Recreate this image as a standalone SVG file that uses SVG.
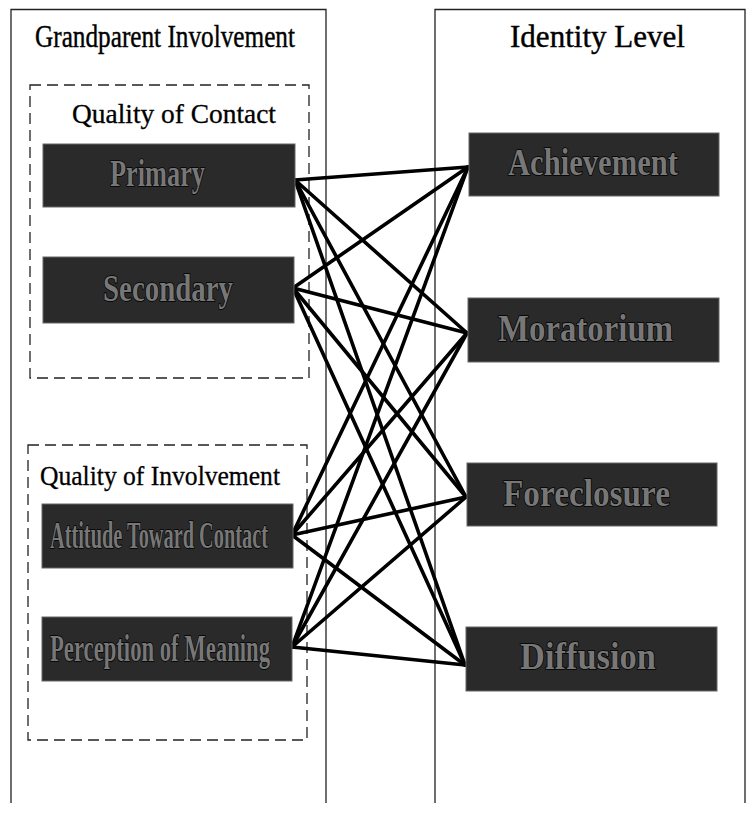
<svg xmlns="http://www.w3.org/2000/svg" width="746" height="813" viewBox="0 0 746 813">
<style>
.panel{fill:none;stroke:#222;stroke-width:1.3}
.dash{fill:none;stroke:#222;stroke-width:1.3;stroke-dasharray:11 6}
.title{font-family:"Liberation Serif",serif;font-size:31px;fill:#000;stroke:#000;stroke-width:0.4}
.sub{font-family:"Liberation Serif",serif;font-size:27px;fill:#000;stroke:#000;stroke-width:0.3}
.box{fill:#2a2a2a;stroke:#666;stroke-width:1}
.lbl{font-family:"Liberation Serif",serif;font-size:38px;font-weight:bold;fill:#777;stroke:#000;stroke-width:1.6;paint-order:stroke}
.conn line{stroke:#000;stroke-width:3.6;stroke-linecap:round}
</style>
<rect width="746" height="813" fill="#fff"/>
<g id="panel-left">
<path class="panel" d="M11,803 V9.5 H326 V803"/>
<text class="title" x="35" y="47" textLength="260" lengthAdjust="spacingAndGlyphs">Grandparent Involvement</text>
</g>
<g id="panel-right">
<path class="panel" d="M435,803 V9.5 H745 V803"/>
<text class="title" x="510" y="47" textLength="175" lengthAdjust="spacingAndGlyphs">Identity Level</text>
</g>
<g id="group-contact">
<rect class="dash" x="30" y="85" width="279" height="293"/>
<text class="sub" x="72" y="123" textLength="204" lengthAdjust="spacingAndGlyphs">Quality of Contact</text>
</g>
<g id="group-involvement">
<rect class="dash" x="28" y="445" width="279" height="295"/>
<text class="sub" x="40" y="485" textLength="240" lengthAdjust="spacingAndGlyphs">Quality of Involvement</text>
</g>
<g class="conn" id="connectors">
<line x1="295" y1="180" x2="468" y2="167"/>
<line x1="295" y1="180" x2="467" y2="333"/>
<line x1="295" y1="180" x2="466" y2="497"/>
<line x1="295" y1="180" x2="465" y2="665"/>
<line x1="293" y1="288" x2="468" y2="167"/>
<line x1="293" y1="288" x2="467" y2="333"/>
<line x1="293" y1="288" x2="466" y2="497"/>
<line x1="293" y1="288" x2="465" y2="665"/>
<line x1="292" y1="535" x2="468" y2="167"/>
<line x1="292" y1="535" x2="467" y2="333"/>
<line x1="292" y1="535" x2="466" y2="497"/>
<line x1="292" y1="535" x2="465" y2="665"/>
<line x1="292" y1="647" x2="468" y2="167"/>
<line x1="292" y1="647" x2="467" y2="333"/>
<line x1="292" y1="647" x2="466" y2="497"/>
<line x1="292" y1="647" x2="465" y2="665"/>
</g>
<g id="node-primary">
<rect class="box" x="43" y="144" width="252" height="63"/>
<text class="lbl" x="110" y="186" textLength="95" lengthAdjust="spacingAndGlyphs">Primary</text>
</g>
<g id="node-secondary">
<rect class="box" x="43" y="257" width="251" height="66"/>
<text class="lbl" x="103" y="301" textLength="130" lengthAdjust="spacingAndGlyphs">Secondary</text>
</g>
<g id="node-attitude">
<rect class="box" x="42" y="504" width="251" height="64"/>
<text class="lbl" x="50" y="548" textLength="218" lengthAdjust="spacingAndGlyphs">Attitude Toward Contact</text>
</g>
<g id="node-perception">
<rect class="box" x="42" y="617" width="250" height="64"/>
<text class="lbl" x="50" y="661" textLength="220" lengthAdjust="spacingAndGlyphs">Perception of Meaning</text>
</g>
<g id="node-achievement">
<rect class="box" x="469" y="133" width="250" height="63"/>
<text class="lbl" x="508" y="175" textLength="170" lengthAdjust="spacingAndGlyphs">Achievement</text>
</g>
<g id="node-moratorium">
<rect class="box" x="468" y="298" width="251" height="64"/>
<text class="lbl" x="498" y="341" textLength="175" lengthAdjust="spacingAndGlyphs">Moratorium</text>
</g>
<g id="node-foreclosure">
<rect class="box" x="467" y="463" width="250" height="63"/>
<text class="lbl" x="503" y="506" textLength="167" lengthAdjust="spacingAndGlyphs">Foreclosure</text>
</g>
<g id="node-diffusion">
<rect class="box" x="466" y="627" width="251" height="64"/>
<text class="lbl" x="520" y="669" textLength="136" lengthAdjust="spacingAndGlyphs">Diffusion</text>
</g>
</svg>
